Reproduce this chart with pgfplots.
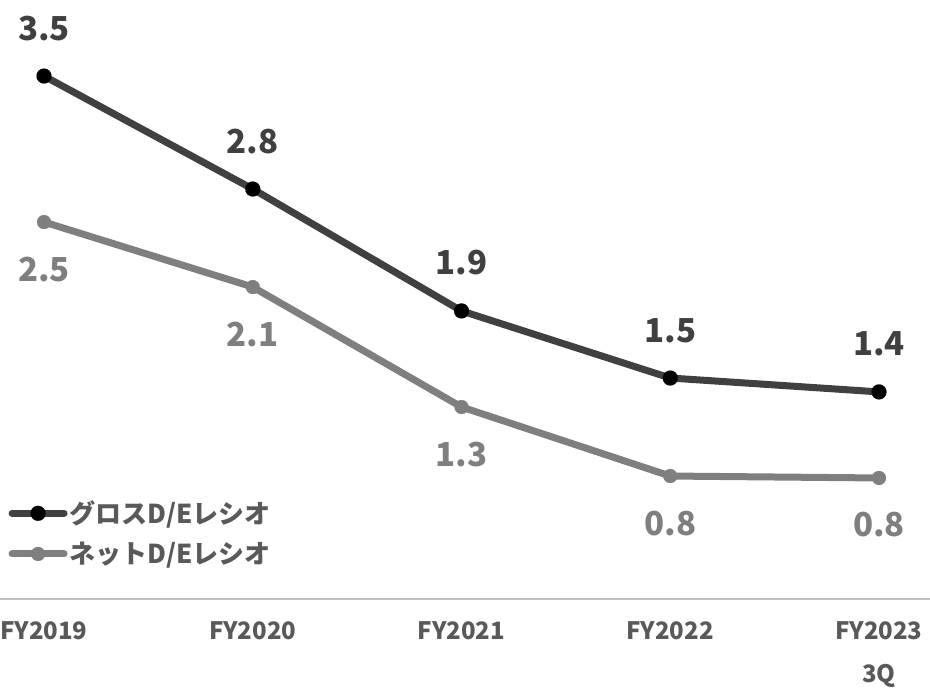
\documentclass[border=0pt]{standalone}
\usepackage{pgfplots}
\pgfplotsset{compat=1.18}
\usepackage{fontspec}
\setmainfont{Noto Sans CJK JP}
\definecolor{gross}{HTML}{404040}
\definecolor{net}{HTML}{7F7F7F}
\definecolor{txt}{HTML}{595959}
\definecolor{axl}{HTML}{BFBFBF}
\begin{document}
\begin{tikzpicture}
\begin{axis}[
  at={(0pt,0pt)}, anchor=south west,
  scale only axis, width=930pt, height=599pt,
  xmin=-0.2108, xmax=4.2443, ymin=0, ymax=4.009,
  axis y line=none, axis x line=bottom,
  x axis line style={-, draw=axl, line width=1.5pt},
  xtick={0,1,2,3,4},
  xticklabels={FY2019,FY2020,FY2021,FY2022,{FY2023\\3Q}},
  xticklabel style={align=center, inner sep=0pt, yshift=-22pt,
    font=\fontsize{24}{43}\selectfont\bfseries, text=txt},
  major tick length=0pt, ytick=\empty,
  clip=false,
  nodes near coords, point meta=explicit symbolic,
  legend style={at={(axis description cs:0.009,0.167)}, anchor=north west,
    draw=none, fill=none, inner sep=0pt, row sep=13pt,
    font=\fontsize{26}{29}\selectfont\bfseries, text=txt,
    nodes={inner sep=2pt}},
  legend cell align=left,
  legend image code/.code={\draw[mark repeat=2, mark phase=2, line cap=round, #1]
     plot coordinates {(0pt,0pt) (26pt,0pt) (52pt,0pt)};},
]
\addplot[gross, line width=7pt, mark=*, mark size=7.5pt,
  mark options={solid, fill=black, draw=black, line width=0.1pt},
  every node near coord/.append style={anchor=base, yshift=36pt,
    font=\fontsize{33}{36}\selectfont\bfseries, text=gross}]
  table[meta=label] {
x y label
0 3.500 3.5
1 2.744 2.8
2 1.928 1.9
3 1.479 1.5
4 1.386 1.4
};
\addlegendentry{グロスD/Eレシオ}
\addplot[net, line width=7pt, mark=*, mark size=7pt,
  mark options={solid, fill=net, draw=net, line width=0.1pt},
  every node near coord/.append style={anchor=base, yshift=-59pt,
    font=\fontsize{33}{36}\selectfont\bfseries, text=net}]
  table[meta=label] {
x y label
0 2.523 2.5
1 2.088 2.1
2 1.285 1.3
3 0.823 0.8
4 0.810 0.8
};
\addlegendentry{ネットD/Eレシオ}
\end{axis}
\pgfresetboundingbox
\path[use as bounding box] (0pt,-90pt) rectangle (930pt,599pt);
\end{tikzpicture}
\end{document}
